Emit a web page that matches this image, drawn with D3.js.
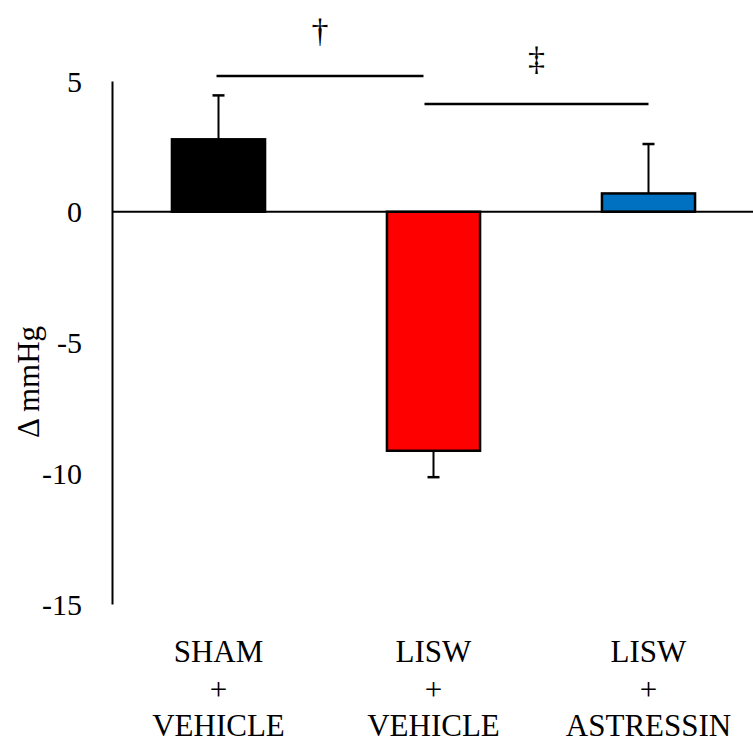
<!DOCTYPE html>
<html>
<head>
<meta charset="utf-8">
<script src="https://cdn.jsdelivr.net/npm/d3@7"></script>
<style>
  body { margin: 0; background: #fff; }
  svg text { font-family: "Times New Roman", "Liberation Serif", Times, serif; fill: #000; }
</style>
</head>
<body>
<div id="chart"></div>
<script>
// data
var groups = ["SHAM", "LISW", "LISW"];
var treatments = ["VEHICLE", "VEHICLE", "ASTRESSIN"];
var means = [2.77, -9.14, 0.70];
var sems = [1.68, 1.01, 1.89];
var barColors = ["#000000", "#ff0000", "#0070c0"];
var yTicks = [5, 0, -5, -10, -15];
// significance bars
var sigFrom = [0, 1];
var sigTo = [1, 2];
var sigLevel = [5.19, 4.12];
var sigSymbol = ["\u2020", "\u2021"];

var svgWidth = 753, svgHeight = 744;

var svg = d3.select("#chart").append("svg")
    .attr("width", svgWidth).attr("height", svgHeight);

var xScale = d3.scaleBand()
    .domain(d3.range(groups.length))
    .range([111, 756])
    .paddingInner(0.567)
    .paddingOuter(0.2835);

var yScale = d3.scaleLinear()
    .domain([-15, 5])
    .range([604, 81]);

// y axis, hyphen minus like the original
var yAxis = d3.axisLeft(yScale)
    .tickValues(yTicks)
    .tickFormat(d => String(d))
    .tickSize(0)
    .tickSizeOuter(0)
    .tickPadding(30);

var yG = svg.append("g")
    .attr("transform", "translate(112,0)")
    .call(yAxis)
    .attr("font-family", null)
    .attr("font-size", null);
yG.select(".domain").attr("stroke", "#000").attr("stroke-width", 2);
yG.selectAll(".tick text")
    .attr("font-size", 30)
    .attr("dy", "0.34em");

// axis title
svg.append("text")
    .attr("transform", "translate(39,382) rotate(-90)")
    .attr("text-anchor", "middle")
    .attr("font-size", 31)
    .text("\u0394 mmHg");

// bars
var cx = i => xScale(i) + xScale.bandwidth() / 2;

svg.selectAll("rect.bar").data(means).enter()
    .append("rect")
    .attr("class", "bar")
    .attr("x", (d, i) => xScale(i))
    .attr("width", xScale.bandwidth())
    .attr("y", d => yScale(Math.max(0, d)))
    .attr("height", d => Math.abs(yScale(d) - yScale(0)))
    .attr("fill", (d, i) => barColors[i])
    .attr("stroke", "#000")
    .attr("stroke-width", 2.5);

// error bars (one-sided, away from zero)
var errEnd = (d, i) => d >= 0 ? d + sems[i] : d - sems[i];

svg.selectAll("line.err").data(means).enter()
    .append("line")
    .attr("class", "err")
    .attr("x1", (d, i) => cx(i)).attr("x2", (d, i) => cx(i))
    .attr("y1", d => yScale(d))
    .attr("y2", (d, i) => yScale(errEnd(d, i)))
    .attr("stroke", "#000").attr("stroke-width", 2);

svg.selectAll("line.cap").data(means).enter()
    .append("line")
    .attr("class", "cap")
    .attr("x1", (d, i) => cx(i) - 6).attr("x2", (d, i) => cx(i) + 6)
    .attr("y1", (d, i) => yScale(errEnd(d, i)))
    .attr("y2", (d, i) => yScale(errEnd(d, i)))
    .attr("stroke", "#000").attr("stroke-width", 2.5);

// zero line
svg.append("line")
    .attr("x1", 112).attr("x2", svgWidth)
    .attr("y1", yScale(0)).attr("y2", yScale(0))
    .attr("stroke", "#000").attr("stroke-width", 2);

// significance lines and symbols
sigLevel.forEach(function (lvl, k) {
    var x1 = cx(sigFrom[k]) - (k === 0 ? 2 : 9);
    var x2 = cx(sigTo[k]) - (k === 0 ? 10 : 0);
    svg.append("line")
        .attr("x1", x1).attr("x2", x2)
        .attr("y1", yScale(lvl)).attr("y2", yScale(lvl))
        .attr("stroke", "#000").attr("stroke-width", 2.5);
    svg.append("text")
        .attr("x", (x1 + x2) / 2)
        .attr("y", yScale(lvl) - 34)
        .attr("text-anchor", "middle")
        .attr("font-size", 34)
        .text(sigSymbol[k]);
});

// category labels
var lab = svg.selectAll("text.cat").data(groups).enter()
    .append("text")
    .attr("class", "cat")
    .attr("text-anchor", "middle")
    .attr("font-size", 31);
lab.append("tspan").attr("x", (d, i) => cx(i)).attr("y", 662).text(d => d);
lab.append("tspan").attr("x", (d, i) => cx(i)).attr("y", 700).text("+");
lab.append("tspan").attr("x", (d, i) => cx(i)).attr("y", 736).text((d, i) => treatments[i]);
</script>
</body>
</html>
